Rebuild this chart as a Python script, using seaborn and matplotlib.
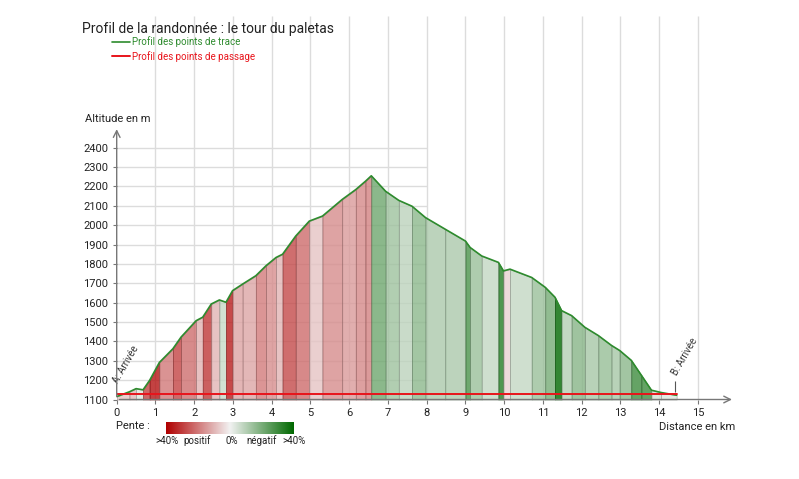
import numpy as np
import matplotlib.pyplot as plt
import seaborn as sns
from matplotlib.colors import LinearSegmentedColormap, Normalize

# profil (distance en km, altitude en m)
dist_km = [0.0, 0.33, 0.5, 0.68, 0.85, 1.1, 1.45, 1.66, 2.05, 2.22, 2.44, 2.65,
           2.82, 2.99, 3.25, 3.59, 3.85, 4.11, 4.28, 4.62, 4.97, 5.31, 5.82, 6.17,
           6.42, 6.57, 6.94, 7.28, 7.62, 7.97, 8.48, 9.0, 9.12, 9.42, 9.85, 9.98,
           10.15, 10.71, 11.06, 11.31, 11.48, 11.74, 12.08, 12.43, 12.77, 12.98,
           13.28, 13.54, 13.8, 14.05, 14.45]
alt_m = [1115, 1140, 1156, 1150, 1199, 1291, 1362, 1422, 1507, 1525, 1593, 1614,
         1602, 1662, 1696, 1739, 1790, 1833, 1850, 1944, 2021, 2047, 2133, 2184,
         2227, 2255, 2175, 2128, 2098, 2039, 1979, 1918, 1885, 1841, 1808, 1764,
         1773, 1730, 1679, 1628, 1559, 1533, 1473, 1430, 1379, 1353, 1302, 1225,
         1148, 1136, 1122]

# points de passage
passage_km = [0.0, 14.45]
passage_alt = [1130, 1130]

x_ticks = list(range(0, 16))
y_ticks = list(range(1100, 2500, 100))

sns.set_theme(style='white')
plt.rcParams['font.family'] = ['Roboto', 'DejaVu Sans']

W, H = 799, 479
fig = plt.figure(figsize=(W / 100, H / 100), dpi=100)
ax = fig.add_axes([116.7 / W, (H - 399.5) / H, 620 / W, (399.5 - 16) / H])
ax.set_xlim(0, 16)
ax.set_ylim(1100, 3080)
for s in ax.spines.values():
    s.set_visible(False)

# grille
ax.vlines(x_ticks[1:], 1100, 3080, color='#dcdcdc', lw=1, zorder=0)
ax.hlines(y_ticks[1:], 0, 8, color='#dcdcdc', lw=1, zorder=0)

# remplissage colore par la pente
cmap = LinearSegmentedColormap.from_list('pente', ['#006800', '#f2f2f2', '#b00000'])
norm = Normalize(-40, 40)
for i in range(len(dist_km) - 1):
    dx = (dist_km[i + 1] - dist_km[i]) * 1000
    pente = (alt_m[i + 1] - alt_m[i]) / dx * 100
    c = cmap(norm(pente))
    ax.fill_between(dist_km[i:i + 2], alt_m[i:i + 2], 1100, color=c, alpha=0.8,
                    edgecolor=tuple(v * 0.7 for v in c[:3]), lw=0.5, zorder=1)

sns.lineplot(x=dist_km, y=alt_m, color='#2e8b2e', lw=1.2, ax=ax, zorder=3,
             label='Profil des points de trace', legend=False)
sns.lineplot(x=passage_km, y=passage_alt, color='#e8141b', lw=1.4, ax=ax, zorder=4,
             label='Profil des points de passage', legend=False)

# axes avec fleches
ax.annotate('', xy=(15.95, 1100), xytext=(0, 1100),
            arrowprops=dict(arrowstyle='->', color='#777777', lw=1), zorder=5)
ax.annotate('', xy=(0, 2510), xytext=(0, 1100),
            arrowprops=dict(arrowstyle='->', color='#777777', lw=1), zorder=5)

ax.set_xticks(x_ticks)
ax.set_yticks(y_ticks)
ax.tick_params(axis='both', length=3, width=0.8, color='#777777', labelsize=8,
               labelcolor='#222222', pad=3, bottom=True, left=True)
ax.set_xlabel('')
ax.set_ylabel('')

# etiquettes depart / arrivee
ax.text(0.08, 1175, 'A: Arrivée', rotation=60, fontsize=7, color='#333333',
        rotation_mode='anchor', ha='left', va='bottom')
ax.vlines(14.4, 1140, 1195, color='#555555', lw=0.8)
ax.text(14.5, 1215, 'B: Arrivée', rotation=60, fontsize=7, color='#333333',
        rotation_mode='anchor', ha='left', va='bottom')

# textes
fig.text(82 / W, 1 - 29 / H, 'Profil de la randonnée : le tour du paletas',
         fontsize=10, color='#222222', va='center')
fig.text(85 / W, 1 - 119 / H, 'Altitude en m', fontsize=8, color='#222222', va='center')
fig.text(735 / W, 1 - 427 / H, 'Distance en km', fontsize=8, color='#222222',
         ha='right', va='center')
fig.text(116 / W, 1 - 426 / H, 'Pente :', fontsize=8, color='#222222', va='center')

h, l = ax.get_legend_handles_labels()
fig.legend(h, l, loc='upper left', bbox_to_anchor=(112 / W, 1 - 36 / H), frameon=False,
           fontsize=7, labelcolor='linecolor', handlelength=1.8, handletextpad=0.3,
           labelspacing=0.4, borderpad=0, borderaxespad=0)

# barre de couleur de la pente
cax = fig.add_axes([166 / W, 1 - 434 / H, 127 / W, 12 / H])
cax.imshow(np.linspace(40, -40, 256)[None, :], aspect='auto', cmap=cmap, norm=norm)
cax.set_axis_off()
for xp, txt in [(167, '>40%'), (197, 'positif'), (232, '0%'), (262, 'négatif'), (294, '>40%')]:
    fig.text(xp / W, 1 - 441 / H, txt, fontsize=7, color='#222222', ha='center', va='center')

fig.savefig('out.png', dpi=100)
